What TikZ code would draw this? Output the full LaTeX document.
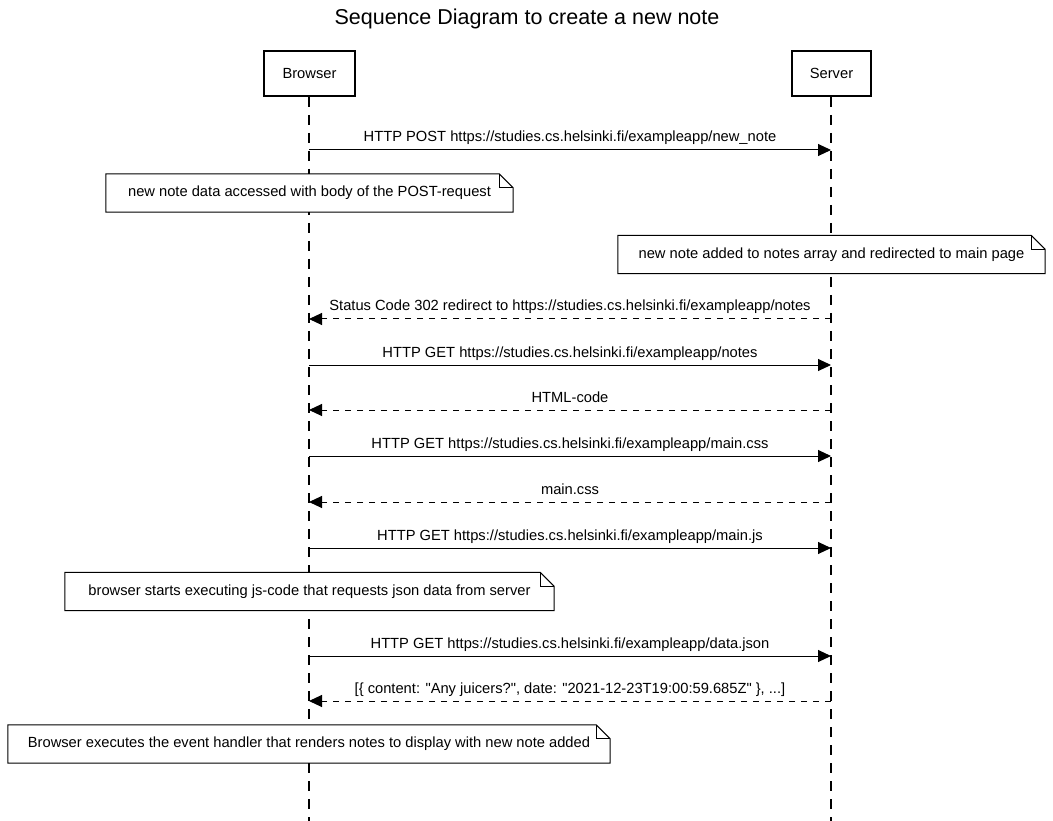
\documentclass[tikz,border=0pt]{standalone}
\usepackage{fontspec}
\setmainfont{Liberation Sans}[Ligatures=TeXOff]
\usetikzlibrary{arrows.meta}
\newcommand\drawnote[1]{%
  \draw[fold] (#1.north west) -- ([xshift=-14pt]#1.north east) -- ([yshift=-14pt]#1.north east) -- (#1.south east) -- (#1.south west) -- cycle;
  \draw[fold] ([xshift=-14pt]#1.north east) -- ([xshift=-14pt,yshift=-14pt]#1.north east) -- ([yshift=-14pt]#1.north east);}
\begin{document}
\begin{tikzpicture}[x=1pt,y=-1pt,
  txt/.style={font=\fontsize{14.7}{17}\selectfont},
  actor/.style={draw, line width=2pt, minimum width=#1, minimum height=45pt, inner sep=0pt, txt},
  lifeline/.style={line width=1.1pt, dash pattern=on 10pt off 8pt},
  msg/.style={line width=1pt, -{Triangle[length=13pt,width=12pt]}},
  ret/.style={msg, dash pattern=on 6pt off 6pt},
  lbl/.style={txt, inner sep=0pt, anchor=base},
  notebox/.style={fill=white, minimum width=#1, minimum height=38pt, inner sep=0pt, txt},
  fold/.style={line width=1pt, line join=miter}
]
\useasboundingbox (0,0) rectangle (1053,821);
\node[font=\fontsize{21.5}{25}\selectfont, anchor=base, inner sep=0pt] (title) at (527,25) {Sequence Diagram to create a new note};
\node[actor=91pt] (B) at (309.5,73.5) {Browser};
\node[actor=79pt] (S) at (831.5,73.5) {Server};
\coordinate (Bend) at (309,821);
\coordinate (Send) at (831,821);
\draw[lifeline] (B.south -| Bend) -- (Bend);
\draw[lifeline] (S.south -| Send) -- (Send);
% messages
\foreach \n/\y in {1/150,2/319,3/365,4/410,5/456,6/502,7/548,8/656,9/701}{
  \coordinate (b\n) at (309,\y);
  \coordinate (s\n) at (831,\y);
}
\draw[msg] (b1) -- (s1);
\node[lbl] (l1) at (570,142) {HTTP POST https://studies.cs.helsinki.fi/exampleapp/new\_note};
\node[notebox=407pt] (n1) at (309.5,193) {new note data accessed with body of the POST-request};
\drawnote{n1}
\node[notebox=427pt] (n2) at (831.5,254.5) {new note added to notes array and redirected to main page};
\drawnote{n2}
\draw[ret] (s2) -- (b2);
\node[lbl] (l2) at (570,311) {Status Code 302 redirect to https://studies.cs.helsinki.fi/exampleapp/notes};
\draw[msg] (b3) -- (s3);
\node[lbl] (l3) at (570,357) {HTTP GET https://studies.cs.helsinki.fi/exampleapp/notes};
\draw[ret] (s4) -- (b4);
\node[lbl] (l4) at (570,402) {HTML-code};
\draw[msg] (b5) -- (s5);
\node[lbl] (l5) at (570,448) {HTTP GET https://studies.cs.helsinki.fi/exampleapp/main.css};
\draw[ret] (s6) -- (b6);
\node[lbl] (l6) at (570,494) {main.css};
\draw[msg] (b7) -- (s7);
\node[lbl] (l7) at (570,540) {HTTP GET https://studies.cs.helsinki.fi/exampleapp/main.js};
\node[notebox=489pt] (n3) at (309.5,591.5) {browser starts executing js-code that requests json data from server};
\drawnote{n3}
\draw[msg] (b8) -- (s8);
\node[lbl] (l8) at (570,648) {HTTP GET https://studies.cs.helsinki.fi/exampleapp/data.json};
\draw[ret] (s9) -- (b9);
\node[lbl] (l9) at (570,693) {[\{ content: "Any juicers?", date: "2021-12-23T19:00:59.685Z" \}, ...]};
\node[notebox=602pt] (n4) at (309,744) {Browser executes the event handler that renders notes to display with new note added};
\drawnote{n4}
\end{tikzpicture}
\end{document}
